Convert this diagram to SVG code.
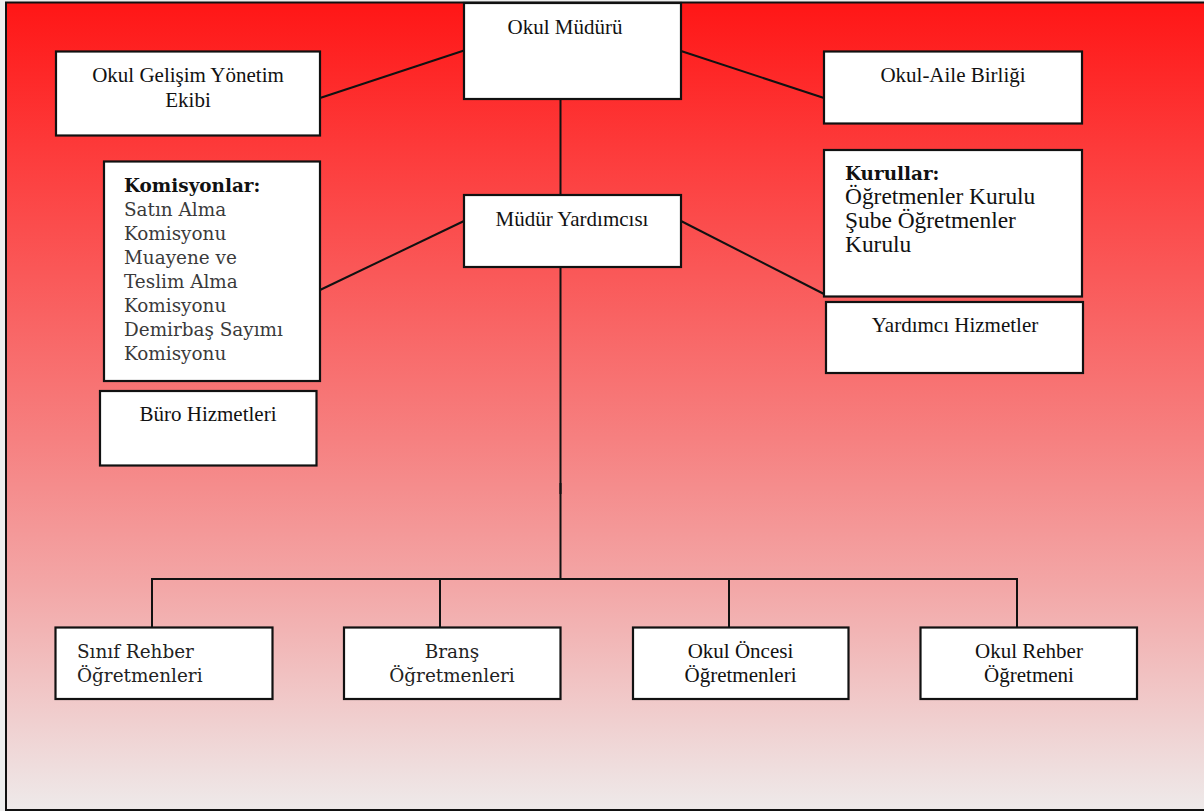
<svg xmlns="http://www.w3.org/2000/svg" width="1204" height="811" viewBox="0 0 1204 811">
  <defs>
    <linearGradient id="bg" x1="0" y1="0" x2="0" y2="1">
      <stop offset="0" stop-color="#ff1616"/>
      <stop offset="0.18" stop-color="#fd3a3a"/>
      <stop offset="0.54" stop-color="#f68080"/>
      <stop offset="0.72" stop-color="#f3a6a6"/>
      <stop offset="1" stop-color="#eeeaea"/>
    </linearGradient>
    <style>
      .box { fill: #ffffff; stroke: #111111; stroke-width: 2.2; }
      .conn { stroke: #111111; stroke-width: 2; fill: none; }
      .tms { font-family: "Liberation Serif", "Times New Roman", serif; font-size: 21px; fill: #111111; }
      .tmsL { font-family: "Liberation Serif", "Times New Roman", serif; font-size: 23.4px; fill: #111111; }
      .geo { font-family: "DejaVu Serif", Georgia, serif; font-size: 18.4px; fill: #222222; }
      .geoG { font-family: "DejaVu Serif", Georgia, serif; font-size: 18.4px; fill: #3a3a3a; }
      .geoB { font-family: "DejaVu Serif", Georgia, serif; font-size: 18.4px; font-weight: bold; fill: #111111; }
      .mid { text-anchor: middle; }
    </style>
  </defs>

  <rect x="0" y="0" width="1204" height="811" fill="#eeeeee"/>
  <rect id="frame" x="6" y="2.5" width="1220" height="807.5" fill="url(#bg)" stroke="#111111" stroke-width="2"/>

  <g id="connectors">
    <line class="conn" x1="320" y1="98" x2="464" y2="50.5"/>
    <line class="conn" x1="681" y1="51" x2="824" y2="98"/>
    <line class="conn" x1="560.5" y1="98" x2="560.5" y2="195"/>
    <line class="conn" x1="464" y1="221" x2="320" y2="290"/>
    <line class="conn" x1="681" y1="221" x2="824" y2="294"/>
    <line class="conn" x1="560.5" y1="267" x2="560.5" y2="579"/>
    <line class="conn" x1="560.5" y1="483" x2="560.5" y2="494" stroke-width="3.2"/>
    <polyline class="conn" points="152,627 152,579 1017,579 1017,627"/>
    <line class="conn" x1="440" y1="579" x2="440" y2="627"/>
    <line class="conn" x1="729" y1="579" x2="729" y2="627"/>
  </g>

  <g id="okul-muduru">
    <rect class="box" x="464" y="3" width="217" height="96"/>
    <text class="tms mid" x="565" y="34">Okul Müdürü</text>
  </g>

  <g id="okul-gelisim">
    <rect class="box" x="56" y="51.5" width="264" height="84"/>
    <text class="tms mid" x="188" y="82">Okul Gelişim Yönetim</text>
    <text class="tms mid" x="188" y="107">Ekibi</text>
  </g>

  <g id="okul-aile">
    <rect class="box" x="824" y="51.5" width="258" height="72"/>
    <text class="tms mid" x="953" y="82">Okul-Aile Birliği</text>
  </g>

  <g id="komisyonlar">
    <rect class="box" x="104" y="161.5" width="216" height="219.5"/>
    <text class="geoB" x="124" y="192">Komisyonlar:</text>
    <text class="geoG" x="124" y="215.5">Satın Alma</text>
    <text class="geoG" x="124" y="239.5">Komisyonu</text>
    <text class="geoG" x="124" y="263.5">Muayene ve</text>
    <text class="geoG" x="124" y="287.5">Teslim Alma</text>
    <text class="geoG" x="124" y="311.5">Komisyonu</text>
    <text class="geoG" x="124" y="335.5">Demirbaş Sayımı</text>
    <text class="geoG" x="124" y="359.5">Komisyonu</text>
  </g>

  <g id="buro-hizmetleri">
    <rect class="box" x="100" y="391" width="216.5" height="74.5"/>
    <text class="tms mid" x="208" y="421">Büro Hizmetleri</text>
  </g>

  <g id="mudur-yardimcisi">
    <rect class="box" x="464" y="195" width="217" height="72"/>
    <text class="tms mid" x="572" y="226">Müdür Yardımcısı</text>
  </g>

  <g id="kurullar">
    <rect class="box" x="824" y="150" width="258" height="146.5"/>
    <text class="geoB" x="845" y="180">Kurullar:</text>
    <text class="tmsL" x="845" y="204">Öğretmenler Kurulu</text>
    <text class="tmsL" x="845" y="228">Şube Öğretmenler</text>
    <text class="tmsL" x="845" y="252">Kurulu</text>
  </g>

  <g id="yardimci-hizmetler">
    <rect class="box" x="826" y="302" width="257" height="71"/>
    <text class="tms mid" x="955" y="332">Yardımcı Hizmetler</text>
  </g>

  <g id="sinif-rehber">
    <rect class="box" x="55.5" y="627.5" width="217" height="71.5"/>
    <text class="geo" x="77" y="658">Sınıf Rehber</text>
    <text class="geo" x="77" y="682">Öğretmenleri</text>
  </g>

  <g id="brans">
    <rect class="box" x="344" y="627.5" width="216.5" height="71.5"/>
    <text class="geo mid" x="452" y="658">Branş</text>
    <text class="geo mid" x="452" y="682">Öğretmenleri</text>
  </g>

  <g id="okul-oncesi">
    <rect class="box" x="633" y="627.5" width="215.5" height="71.5"/>
    <text class="tms mid" x="740.5" y="658">Okul Öncesi</text>
    <text class="tms mid" x="740.5" y="682">Öğretmenleri</text>
  </g>

  <g id="okul-rehber">
    <rect class="box" x="920.5" y="627.5" width="216.5" height="71.5"/>
    <text class="tms mid" x="1029" y="658">Okul Rehber</text>
    <text class="tms mid" x="1029" y="682">Öğretmeni</text>
  </g>
</svg>
